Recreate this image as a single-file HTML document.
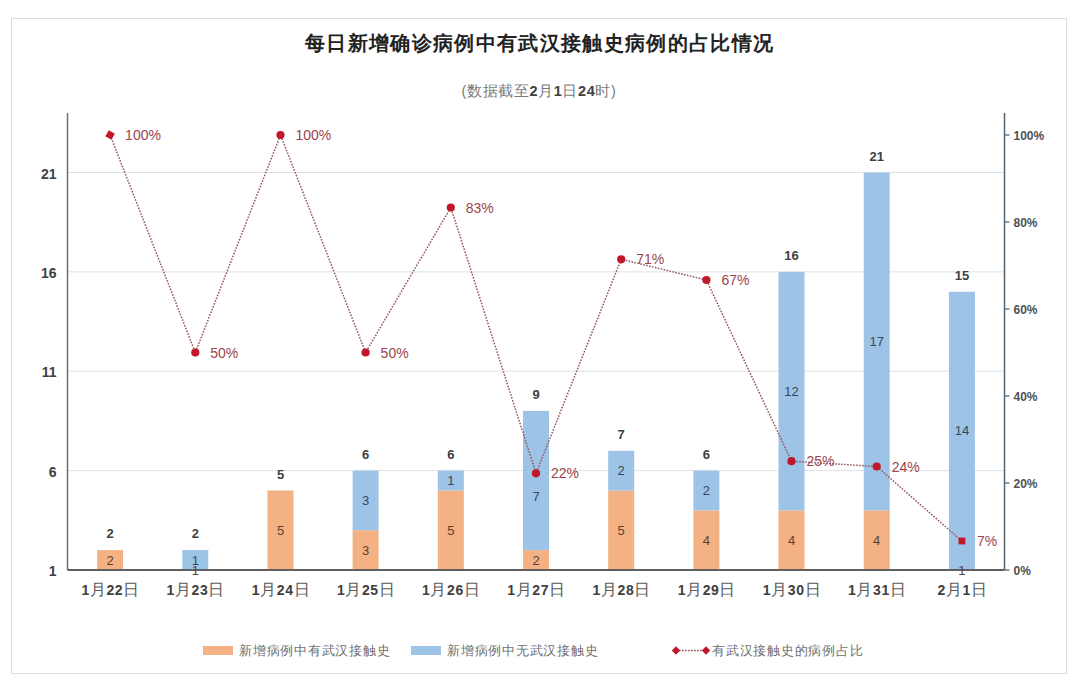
<!DOCTYPE html>
<html><head><meta charset="utf-8"><style>
html,body{margin:0;padding:0;background:#fff;width:1080px;height:683px;overflow:hidden;position:relative;font-family:"Liberation Sans", sans-serif;}
</style></head><body>
<svg width="1080" height="683" viewBox="0 0 1080 683" style="position:absolute;left:0;top:0">
<rect x="11.5" y="18.5" width="1055" height="655" fill="#fff" stroke="#dcdcdc" stroke-width="1"/>
<text x="539.7" y="49.5" text-anchor="middle" font-family='"Liberation Sans", sans-serif' font-size="20" font-weight="bold" letter-spacing="1.35" fill="#222">每日新增确诊病例中有武汉接触史病例的占比情况</text>
<text x="539" y="96" text-anchor="middle" font-family='"Liberation Sans", sans-serif' font-size="14.5" letter-spacing="0.6" fill="#7a7a7a">(数据截至<tspan font-weight="bold" fill="#404040">2</tspan>月<tspan font-weight="bold" fill="#404040">1</tspan>日<tspan font-weight="bold" fill="#404040">24</tspan>时)</text>
<line x1="67.5" y1="470.6" x2="1004.5" y2="470.6" stroke="#dde2e7" stroke-width="1"/>
<line x1="67.5" y1="371.2" x2="1004.5" y2="371.2" stroke="#dde2e7" stroke-width="1"/>
<line x1="67.5" y1="271.9" x2="1004.5" y2="271.9" stroke="#dde2e7" stroke-width="1"/>
<line x1="67.5" y1="172.5" x2="1004.5" y2="172.5" stroke="#dde2e7" stroke-width="1"/>
<rect x="97.1" y="550.1" width="26.0" height="19.9" fill="#f4b183"/>
<rect x="182.3" y="550.1" width="26.0" height="19.9" fill="#9dc3e6"/>
<rect x="267.5" y="490.5" width="26.0" height="79.5" fill="#f4b183"/>
<rect x="352.6" y="530.2" width="26.0" height="39.8" fill="#f4b183"/>
<rect x="352.6" y="470.6" width="26.0" height="59.6" fill="#9dc3e6"/>
<rect x="437.8" y="490.5" width="26.0" height="79.5" fill="#f4b183"/>
<rect x="437.8" y="470.6" width="26.0" height="19.9" fill="#9dc3e6"/>
<rect x="523.0" y="550.1" width="26.0" height="19.9" fill="#f4b183"/>
<rect x="523.0" y="411.0" width="26.0" height="139.1" fill="#9dc3e6"/>
<rect x="608.2" y="490.5" width="26.0" height="79.5" fill="#f4b183"/>
<rect x="608.2" y="450.8" width="26.0" height="39.8" fill="#9dc3e6"/>
<rect x="693.4" y="510.4" width="26.0" height="59.6" fill="#f4b183"/>
<rect x="693.4" y="470.6" width="26.0" height="39.8" fill="#9dc3e6"/>
<rect x="778.5" y="510.4" width="26.0" height="59.6" fill="#f4b183"/>
<rect x="778.5" y="271.9" width="26.0" height="238.5" fill="#9dc3e6"/>
<rect x="863.7" y="510.4" width="26.0" height="59.6" fill="#f4b183"/>
<rect x="863.7" y="172.5" width="26.0" height="337.9" fill="#9dc3e6"/>
<rect x="948.9" y="291.8" width="26.0" height="278.2" fill="#9dc3e6"/>
<line x1="67.5" y1="113" x2="67.5" y2="570.0" stroke="#65717b" stroke-width="1.5"/>
<line x1="1004.5" y1="113" x2="1004.5" y2="570.0" stroke="#55636e" stroke-width="1.5"/>
<line x1="1004.5" y1="570.0" x2="1009.5" y2="570.0" stroke="#4f5d69" stroke-width="1.2"/>
<text x="1013.5" y="574.5" font-family='"Liberation Sans", sans-serif' font-size="12" font-weight="bold" fill="#505050">0%</text>
<line x1="1004.5" y1="483.0" x2="1009.5" y2="483.0" stroke="#4f5d69" stroke-width="1.2"/>
<text x="1013.5" y="487.5" font-family='"Liberation Sans", sans-serif' font-size="12" font-weight="bold" fill="#505050">20%</text>
<line x1="1004.5" y1="396.0" x2="1009.5" y2="396.0" stroke="#4f5d69" stroke-width="1.2"/>
<text x="1013.5" y="400.5" font-family='"Liberation Sans", sans-serif' font-size="12" font-weight="bold" fill="#505050">40%</text>
<line x1="1004.5" y1="309.0" x2="1009.5" y2="309.0" stroke="#4f5d69" stroke-width="1.2"/>
<text x="1013.5" y="313.5" font-family='"Liberation Sans", sans-serif' font-size="12" font-weight="bold" fill="#505050">60%</text>
<line x1="1004.5" y1="222.0" x2="1009.5" y2="222.0" stroke="#4f5d69" stroke-width="1.2"/>
<text x="1013.5" y="226.5" font-family='"Liberation Sans", sans-serif' font-size="12" font-weight="bold" fill="#505050">80%</text>
<line x1="1004.5" y1="135.0" x2="1009.5" y2="135.0" stroke="#4f5d69" stroke-width="1.2"/>
<text x="1013.5" y="139.5" font-family='"Liberation Sans", sans-serif' font-size="12" font-weight="bold" fill="#505050">100%</text>
<line x1="67.5" y1="570.0" x2="1004.5" y2="570.0" stroke="#606060" stroke-width="2"/>
<text x="56.5" y="576.0" text-anchor="end" font-family='"Liberation Sans", sans-serif' font-size="14" font-weight="bold" fill="#404040">1</text>
<text x="56.5" y="476.6" text-anchor="end" font-family='"Liberation Sans", sans-serif' font-size="14" font-weight="bold" fill="#404040">6</text>
<text x="56.5" y="377.2" text-anchor="end" font-family='"Liberation Sans", sans-serif' font-size="14" font-weight="bold" fill="#404040">11</text>
<text x="56.5" y="277.9" text-anchor="end" font-family='"Liberation Sans", sans-serif' font-size="14" font-weight="bold" fill="#404040">16</text>
<text x="56.5" y="178.5" text-anchor="end" font-family='"Liberation Sans", sans-serif' font-size="14" font-weight="bold" fill="#404040">21</text>
<text x="110.6" y="595" text-anchor="middle" font-family='"Liberation Sans", sans-serif' font-size="14" letter-spacing="0.6" fill="#595959"><tspan font-weight="bold" fill="#404040" font-size="14">1</tspan><tspan font-size="15.5" fill="#5a5a5a">月</tspan><tspan font-weight="bold" fill="#404040" font-size="14">22</tspan><tspan font-size="15.5" fill="#5a5a5a">日</tspan></text>
<text x="195.8" y="595" text-anchor="middle" font-family='"Liberation Sans", sans-serif' font-size="14" letter-spacing="0.6" fill="#595959"><tspan font-weight="bold" fill="#404040" font-size="14">1</tspan><tspan font-size="15.5" fill="#5a5a5a">月</tspan><tspan font-weight="bold" fill="#404040" font-size="14">23</tspan><tspan font-size="15.5" fill="#5a5a5a">日</tspan></text>
<text x="281.0" y="595" text-anchor="middle" font-family='"Liberation Sans", sans-serif' font-size="14" letter-spacing="0.6" fill="#595959"><tspan font-weight="bold" fill="#404040" font-size="14">1</tspan><tspan font-size="15.5" fill="#5a5a5a">月</tspan><tspan font-weight="bold" fill="#404040" font-size="14">24</tspan><tspan font-size="15.5" fill="#5a5a5a">日</tspan></text>
<text x="366.1" y="595" text-anchor="middle" font-family='"Liberation Sans", sans-serif' font-size="14" letter-spacing="0.6" fill="#595959"><tspan font-weight="bold" fill="#404040" font-size="14">1</tspan><tspan font-size="15.5" fill="#5a5a5a">月</tspan><tspan font-weight="bold" fill="#404040" font-size="14">25</tspan><tspan font-size="15.5" fill="#5a5a5a">日</tspan></text>
<text x="451.3" y="595" text-anchor="middle" font-family='"Liberation Sans", sans-serif' font-size="14" letter-spacing="0.6" fill="#595959"><tspan font-weight="bold" fill="#404040" font-size="14">1</tspan><tspan font-size="15.5" fill="#5a5a5a">月</tspan><tspan font-weight="bold" fill="#404040" font-size="14">26</tspan><tspan font-size="15.5" fill="#5a5a5a">日</tspan></text>
<text x="536.5" y="595" text-anchor="middle" font-family='"Liberation Sans", sans-serif' font-size="14" letter-spacing="0.6" fill="#595959"><tspan font-weight="bold" fill="#404040" font-size="14">1</tspan><tspan font-size="15.5" fill="#5a5a5a">月</tspan><tspan font-weight="bold" fill="#404040" font-size="14">27</tspan><tspan font-size="15.5" fill="#5a5a5a">日</tspan></text>
<text x="621.7" y="595" text-anchor="middle" font-family='"Liberation Sans", sans-serif' font-size="14" letter-spacing="0.6" fill="#595959"><tspan font-weight="bold" fill="#404040" font-size="14">1</tspan><tspan font-size="15.5" fill="#5a5a5a">月</tspan><tspan font-weight="bold" fill="#404040" font-size="14">28</tspan><tspan font-size="15.5" fill="#5a5a5a">日</tspan></text>
<text x="706.9" y="595" text-anchor="middle" font-family='"Liberation Sans", sans-serif' font-size="14" letter-spacing="0.6" fill="#595959"><tspan font-weight="bold" fill="#404040" font-size="14">1</tspan><tspan font-size="15.5" fill="#5a5a5a">月</tspan><tspan font-weight="bold" fill="#404040" font-size="14">29</tspan><tspan font-size="15.5" fill="#5a5a5a">日</tspan></text>
<text x="792.0" y="595" text-anchor="middle" font-family='"Liberation Sans", sans-serif' font-size="14" letter-spacing="0.6" fill="#595959"><tspan font-weight="bold" fill="#404040" font-size="14">1</tspan><tspan font-size="15.5" fill="#5a5a5a">月</tspan><tspan font-weight="bold" fill="#404040" font-size="14">30</tspan><tspan font-size="15.5" fill="#5a5a5a">日</tspan></text>
<text x="877.2" y="595" text-anchor="middle" font-family='"Liberation Sans", sans-serif' font-size="14" letter-spacing="0.6" fill="#595959"><tspan font-weight="bold" fill="#404040" font-size="14">1</tspan><tspan font-size="15.5" fill="#5a5a5a">月</tspan><tspan font-weight="bold" fill="#404040" font-size="14">31</tspan><tspan font-size="15.5" fill="#5a5a5a">日</tspan></text>
<text x="962.4" y="595" text-anchor="middle" font-family='"Liberation Sans", sans-serif' font-size="14" letter-spacing="0.6" fill="#595959"><tspan font-weight="bold" fill="#404040" font-size="14">2</tspan><tspan font-size="15.5" fill="#5a5a5a">月</tspan><tspan font-weight="bold" fill="#404040" font-size="14">1</tspan><tspan font-size="15.5" fill="#5a5a5a">日</tspan></text>
<text x="110.1" y="564.6" text-anchor="middle" font-family='"Liberation Sans", sans-serif' font-size="13" fill="#5a4232">2</text>
<text x="110.1" y="538.1" text-anchor="middle" font-family='"Liberation Sans", sans-serif' font-size="13" font-weight="bold" fill="#404040">2</text>
<text x="195.3" y="574.5" text-anchor="middle" font-family='"Liberation Sans", sans-serif' font-size="13" fill="#5a4232">1</text>
<text x="195.3" y="564.6" text-anchor="middle" font-family='"Liberation Sans", sans-serif' font-size="13" fill="#34495c">1</text>
<text x="195.3" y="538.1" text-anchor="middle" font-family='"Liberation Sans", sans-serif' font-size="13" font-weight="bold" fill="#404040">2</text>
<text x="280.5" y="534.8" text-anchor="middle" font-family='"Liberation Sans", sans-serif' font-size="13" fill="#5a4232">5</text>
<text x="280.5" y="478.5" text-anchor="middle" font-family='"Liberation Sans", sans-serif' font-size="13" font-weight="bold" fill="#404040">5</text>
<text x="365.6" y="554.6" text-anchor="middle" font-family='"Liberation Sans", sans-serif' font-size="13" fill="#5a4232">3</text>
<text x="365.6" y="504.9" text-anchor="middle" font-family='"Liberation Sans", sans-serif' font-size="13" fill="#34495c">3</text>
<text x="365.6" y="458.6" text-anchor="middle" font-family='"Liberation Sans", sans-serif' font-size="13" font-weight="bold" fill="#404040">6</text>
<text x="450.8" y="534.8" text-anchor="middle" font-family='"Liberation Sans", sans-serif' font-size="13" fill="#5a4232">5</text>
<text x="450.8" y="485.1" text-anchor="middle" font-family='"Liberation Sans", sans-serif' font-size="13" fill="#34495c">1</text>
<text x="450.8" y="458.6" text-anchor="middle" font-family='"Liberation Sans", sans-serif' font-size="13" font-weight="bold" fill="#404040">6</text>
<text x="536.0" y="564.6" text-anchor="middle" font-family='"Liberation Sans", sans-serif' font-size="13" fill="#5a4232">2</text>
<text x="536.0" y="500.5" text-anchor="middle" font-family='"Liberation Sans", sans-serif' font-size="13" fill="#34495c">7</text>
<text x="536.0" y="399.0" text-anchor="middle" font-family='"Liberation Sans", sans-serif' font-size="13" font-weight="bold" fill="#404040">9</text>
<text x="621.2" y="534.8" text-anchor="middle" font-family='"Liberation Sans", sans-serif' font-size="13" fill="#5a4232">5</text>
<text x="621.2" y="475.1" text-anchor="middle" font-family='"Liberation Sans", sans-serif' font-size="13" fill="#34495c">2</text>
<text x="621.2" y="438.8" text-anchor="middle" font-family='"Liberation Sans", sans-serif' font-size="13" font-weight="bold" fill="#404040">7</text>
<text x="706.4" y="544.7" text-anchor="middle" font-family='"Liberation Sans", sans-serif' font-size="13" fill="#5a4232">4</text>
<text x="706.4" y="495.0" text-anchor="middle" font-family='"Liberation Sans", sans-serif' font-size="13" fill="#34495c">2</text>
<text x="706.4" y="458.6" text-anchor="middle" font-family='"Liberation Sans", sans-serif' font-size="13" font-weight="bold" fill="#404040">6</text>
<text x="791.5" y="544.7" text-anchor="middle" font-family='"Liberation Sans", sans-serif' font-size="13" fill="#5a4232">4</text>
<text x="791.5" y="395.6" text-anchor="middle" font-family='"Liberation Sans", sans-serif' font-size="13" fill="#34495c">12</text>
<text x="791.5" y="259.9" text-anchor="middle" font-family='"Liberation Sans", sans-serif' font-size="13" font-weight="bold" fill="#404040">16</text>
<text x="876.7" y="544.7" text-anchor="middle" font-family='"Liberation Sans", sans-serif' font-size="13" fill="#5a4232">4</text>
<text x="876.7" y="345.9" text-anchor="middle" font-family='"Liberation Sans", sans-serif' font-size="13" fill="#34495c">17</text>
<text x="876.7" y="160.5" text-anchor="middle" font-family='"Liberation Sans", sans-serif' font-size="13" font-weight="bold" fill="#404040">21</text>
<text x="961.9" y="574.5" text-anchor="middle" font-family='"Liberation Sans", sans-serif' font-size="13" fill="#5a4232">1</text>
<text x="961.9" y="435.4" text-anchor="middle" font-family='"Liberation Sans", sans-serif' font-size="13" fill="#34495c">14</text>
<text x="961.9" y="279.8" text-anchor="middle" font-family='"Liberation Sans", sans-serif' font-size="13" font-weight="bold" fill="#404040">15</text>
<polyline points="110.1,135.0 195.3,352.5 280.5,135.0 365.6,352.5 450.8,207.5 536.0,473.3 621.2,259.3 706.4,280.0 791.5,461.2 876.7,466.5 961.9,541.0" fill="none" stroke="#935860" stroke-width="1.5" stroke-dasharray="1.6 1.4"/>
<rect x="106.6" y="131.5" width="7" height="7" fill="#c0182a" transform="rotate(30 110.1 135.0)"/>
<text x="125.1" y="140.0" font-family='"Liberation Sans", sans-serif' font-size="14" fill="#9c434b">100%</text>
<circle cx="195.3" cy="352.5" r="4.1" fill="#c0182a"/>
<text x="210.3" y="357.5" font-family='"Liberation Sans", sans-serif' font-size="14" fill="#9c434b">50%</text>
<circle cx="280.5" cy="135.0" r="4.1" fill="#c0182a"/>
<text x="295.5" y="140.0" font-family='"Liberation Sans", sans-serif' font-size="14" fill="#9c434b">100%</text>
<circle cx="365.6" cy="352.5" r="4.1" fill="#c0182a"/>
<text x="380.6" y="357.5" font-family='"Liberation Sans", sans-serif' font-size="14" fill="#9c434b">50%</text>
<circle cx="450.8" cy="207.5" r="4.1" fill="#c0182a"/>
<text x="465.8" y="212.5" font-family='"Liberation Sans", sans-serif' font-size="14" fill="#9c434b">83%</text>
<circle cx="536.0" cy="473.3" r="4.1" fill="#c0182a"/>
<text x="551.0" y="478.3" font-family='"Liberation Sans", sans-serif' font-size="14" fill="#9c434b">22%</text>
<circle cx="621.2" cy="259.3" r="4.1" fill="#c0182a"/>
<text x="636.2" y="264.3" font-family='"Liberation Sans", sans-serif' font-size="14" fill="#9c434b">71%</text>
<circle cx="706.4" cy="280.0" r="4.1" fill="#c0182a"/>
<text x="721.4" y="285.0" font-family='"Liberation Sans", sans-serif' font-size="14" fill="#9c434b">67%</text>
<circle cx="791.5" cy="461.2" r="4.1" fill="#c0182a"/>
<text x="806.5" y="466.2" font-family='"Liberation Sans", sans-serif' font-size="14" fill="#9c434b">25%</text>
<circle cx="876.7" cy="466.5" r="4.1" fill="#c0182a"/>
<text x="891.7" y="471.5" font-family='"Liberation Sans", sans-serif' font-size="14" fill="#9c434b">24%</text>
<rect x="958.5" y="537.6" width="6.8" height="6.8" fill="#c0182a"/>
<text x="976.9" y="546.0" font-family='"Liberation Sans", sans-serif' font-size="14" fill="#9c434b">7%</text>
<rect x="203" y="646" width="30" height="9" fill="#f4b183"/>
<text x="239" y="655" font-family='"Liberation Serif", serif' font-size="13" letter-spacing="0.75" fill="#707070">新增病例中有武汉接触史</text>
<rect x="411" y="646" width="30" height="9" fill="#9dc3e6"/>
<text x="447" y="655" font-family='"Liberation Serif", serif' font-size="13" letter-spacing="0.75" fill="#707070">新增病例中无武汉接触史</text>
<line x1="676" y1="650.5" x2="706" y2="650.5" stroke="#8a4f55" stroke-width="1.5" stroke-dasharray="1.6 1.4"/>
<rect x="673" y="647.5" width="6" height="6" fill="#c0182a" transform="rotate(45 676 650.5)"/>
<rect x="703" y="647.5" width="6" height="6" fill="#c0182a" transform="rotate(45 706 650.5)"/>
<text x="712" y="655" font-family='"Liberation Serif", serif' font-size="13" letter-spacing="0.75" fill="#707070">有武汉接触史的病例占比</text>
</svg>
</body></html>
